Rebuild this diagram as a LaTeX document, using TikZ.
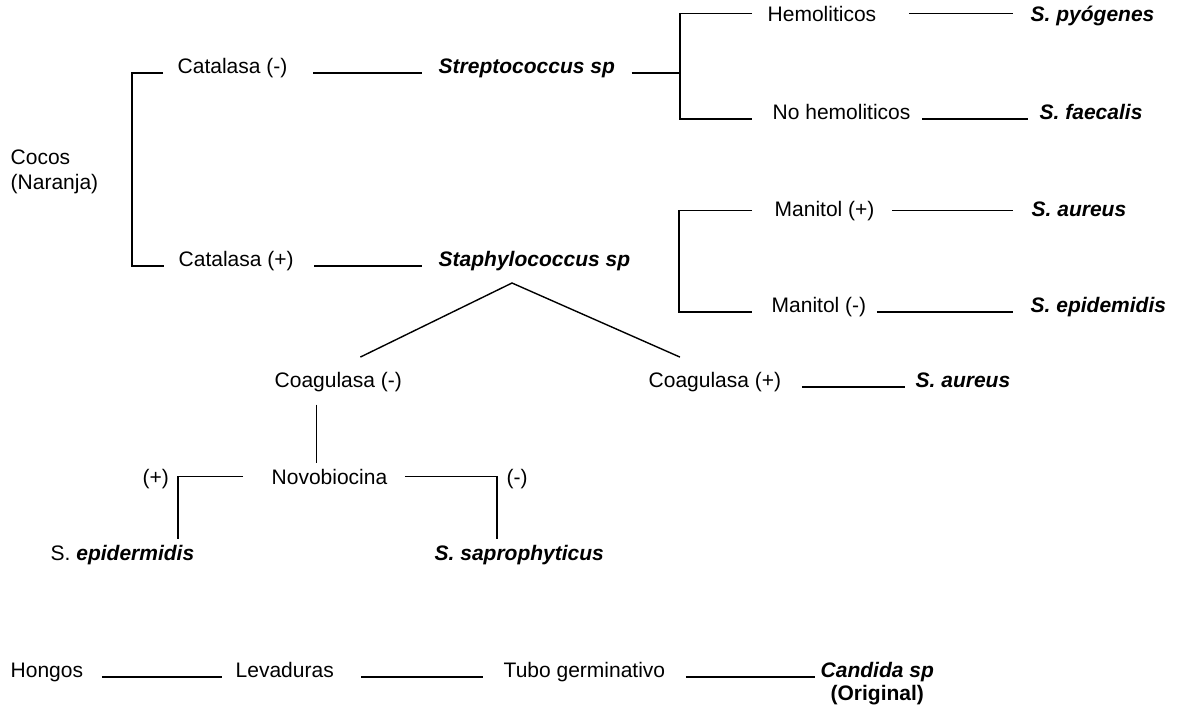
\documentclass[tikz,border=0pt]{standalone}
\usepackage{fontspec}
\setmainfont{Liberation Sans}

\begin{document}
\begin{tikzpicture}[x=0.5pt, y=-0.5pt, line width=0.7pt,
  every node/.style={inner sep=0pt, anchor=base west, font=\fontsize{10.5}{12.5}\selectfont},
  taxon/.style={font=\fontsize{10.5}{12.5}\selectfont\bfseries\itshape}]
\useasboundingbox (0,0) rectangle (1181,708);

% Cocos
\node[anchor=west, align=left] (cocos) at (10,172) {Cocos\\(Naranja)};
\node (catneg) at (177,73) {Catalasa (-)};
\node (catpos) at (178,266) {Catalasa (+)};
\node[taxon] (strep) at (438,73) {Streptococcus sp};
\node[taxon] (staph) at (438,266) {Staphylococcus sp};
\draw ([xshift=-7pt]catneg.base west) -| ([xshift=-23pt]catpos.base west) -- ([xshift=-7pt]catpos.base west);
\draw[shorten <=12.5pt, shorten >=8pt] (catneg.base east) -- (strep.base west);
\draw[shorten <=10pt, shorten >=8pt] (catpos.base east) -- (staph.base west);

% Streptococcus
\node (hemo) at (767,21) {Hemoliticos};
\node (nohemo) at (772,119) {No hemoliticos};
\node[taxon] (spyo) at (1030,21) {S. pyógenes};
\node[taxon] (sfaec) at (1039,119) {S. faecalis};
\coordinate (strepfork) at (680,73);
\draw[shorten <=8pt] (strep.base east) -- (strepfork);
\draw ([xshift=-7.5pt]hemo.west) -| (strepfork) |- ([xshift=-10pt]nohemo.base west);
\draw[shorten <=16pt, shorten >=8.5pt] (hemo.east) -- (hemo.east -| spyo.west);
\draw[shorten <=5.5pt, shorten >=5.5pt] (nohemo.base east) -- (sfaec.base west);

% Staphylococcus
\node (manpos) at (774,216) {Manitol (+)};
\node (manneg) at (771,312) {Manitol (-)};
\node[taxon] (saureus) at (1031,216) {S. aureus};
\node[taxon] (sepid) at (1030,312) {S. epidemidis};
\draw ([xshift=-11pt]manpos.west) -| ([xshift=-46pt]manneg.base west) -- ([xshift=-9.5pt]manneg.base west);
\draw[shorten <=8.5pt, shorten >=9pt] (manpos.east) -- (manpos.east -| saureus.west);
\draw[shorten <=5pt, shorten >=8.5pt] (manneg.base east) -- (sepid.base west);

% Coagulasa
\coordinate (apex) at (512,283);
\node (coagneg) at (274,387) {Coagulasa (-)};
\node (coagpos) at (648,387) {Coagulasa (+)};
\node[taxon] (saureusb) at (915,387) {S. aureus};
\draw ([shift={(11pt,7pt)}]coagneg.north) -- (apex) -- ([shift={(-17.5pt,7pt)}]coagpos.north);
\draw[shorten <=10pt, shorten >=5pt] (coagpos.base east) -- (saureusb.base west);

% Novobiocina
\node (novo) at (271,484) {Novobiocina};
\node (plus) at (142,484) {(+)};
\node (minus) at (506,484) {(-)};
\node (sepidb) at (50,560) {S. \textbf{\textit{epidermidis}}};
\node[taxon] (ssapro) at (434,560) {S. saprophyticus};
\coordinate (coagstem) at ([xshift=-11pt]coagneg.south);
\coordinate (lfork) at ([xshift=-46.5pt]novo.west);
\coordinate (rfork) at ([xshift=54.5pt]novo.east);
\draw[shorten <=6.3pt, shorten >=2.4pt] (coagstem) -- (coagstem |- novo.north);
\draw[shorten >=2.5pt] ([xshift=-14pt]novo.west) -| (lfork |- sepidb.north);
\draw[shorten >=2.5pt] ([xshift=8.5pt]novo.east) -| (rfork |- ssapro.north);

% Hongos
\node (hongos) at (10,677) {Hongos};
\node (levad) at (235,677) {Levaduras};
\node (tubo) at (503,677) {Tubo germinativo};
\node[taxon] (candida) at (820,677) {Candida sp};
\node[anchor=north, font=\fontsize{10.5}{12.5}\selectfont\bfseries] (orig) at ([yshift=-1.5pt]candida.south) {(Original)};
\draw[shorten <=9pt, shorten >=6.5pt] (hongos.base east) -- (levad.base west);
\draw[shorten <=13.5pt, shorten >=10pt] (levad.base east) -- (tubo.base west);
\draw[shorten <=10pt, shorten >=2.5pt] (tubo.base east) -- (candida.base west);
\end{tikzpicture}
\end{document}
